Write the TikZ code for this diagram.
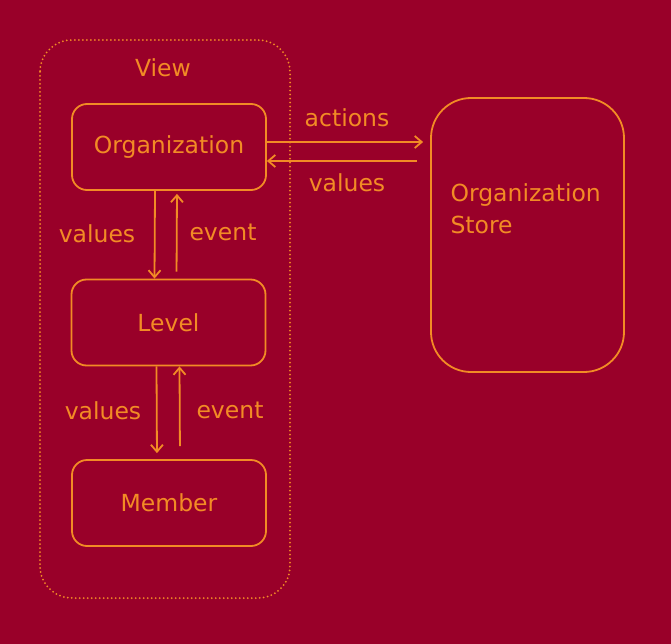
\documentclass[tikz,border=0pt]{standalone}
\usepackage{fontspec}
\setmainfont{DejaVu Sans}
\usetikzlibrary{arrows.meta}
\definecolor{wine}{HTML}{990029}
\definecolor{amber}{HTML}{F28B25}
\tikzset{
	box/.style={draw=amber,text=amber,rounded corners=15pt,minimum width=194pt,minimum height=86pt,line width=1.8pt},
	lbl/.style={text=amber},
	link/.style={draw=amber,line width=1.8pt,->}
}
\begin{document}
\begin{tikzpicture}[x=1pt,y=-1pt,>={Straight Barb[length=7pt,width=12pt]},font=\fontsize{23.5}{32}\selectfont]
	\fill[wine] (0,0) rectangle (671,644);
	\draw[amber,line width=2pt,line cap=round,dash pattern=on 0pt off 4pt,rounded corners=32pt] (40,40) rectangle (290,598);
	\node[lbl] (view) at (163,68) {View};
	\node[box] (org) at (169,147) {Organization};
	\node[box] (lvl) at (168.5,322.5) {Level};
	\node[box] (mem) at (169,503) {Member};
	\node[box,rounded corners=40pt,minimum width=193pt,minimum height=274pt] (store) at (527.5,235) {};
	\node[lbl,anchor=west,align=left] (storetxt) at (447,209) {Organization\\Store};
	% arrows between the boxes
	\draw[link] ([xshift=-14pt]org.south) -- ([xshift=-14pt]lvl.north);
	\draw[link,shorten <=7pt,shorten >=3pt] ([xshift=8pt]lvl.north) -- ([xshift=8pt]org.south);
	\draw[link,shorten >=6pt] ([xshift=-12pt]lvl.south) -- ([xshift=-12pt]mem.north);
	\draw[link,shorten <=13pt] ([xshift=11pt]mem.north) -- ([xshift=11pt]lvl.south);
	\draw[link,shorten >=7pt] ([yshift=5pt]org.east) -- ([yshift=5pt]org.east -| store.west);
	\draw[link,shorten <=13pt] ([yshift=-14pt]org.east -| store.west) -- ([yshift=-14pt]org.east);
	\node[lbl] (v1) at (97,234) {values};
	\node[lbl] (e1) at (223,232) {event};
	\node[lbl] (v2) at (103,411) {values};
	\node[lbl] (e2) at (230,410) {event};
	\node[lbl] (act) at (347,118) {actions};
	\node[lbl] (v3) at (347,183) {values};
\end{tikzpicture}
\end{document}
